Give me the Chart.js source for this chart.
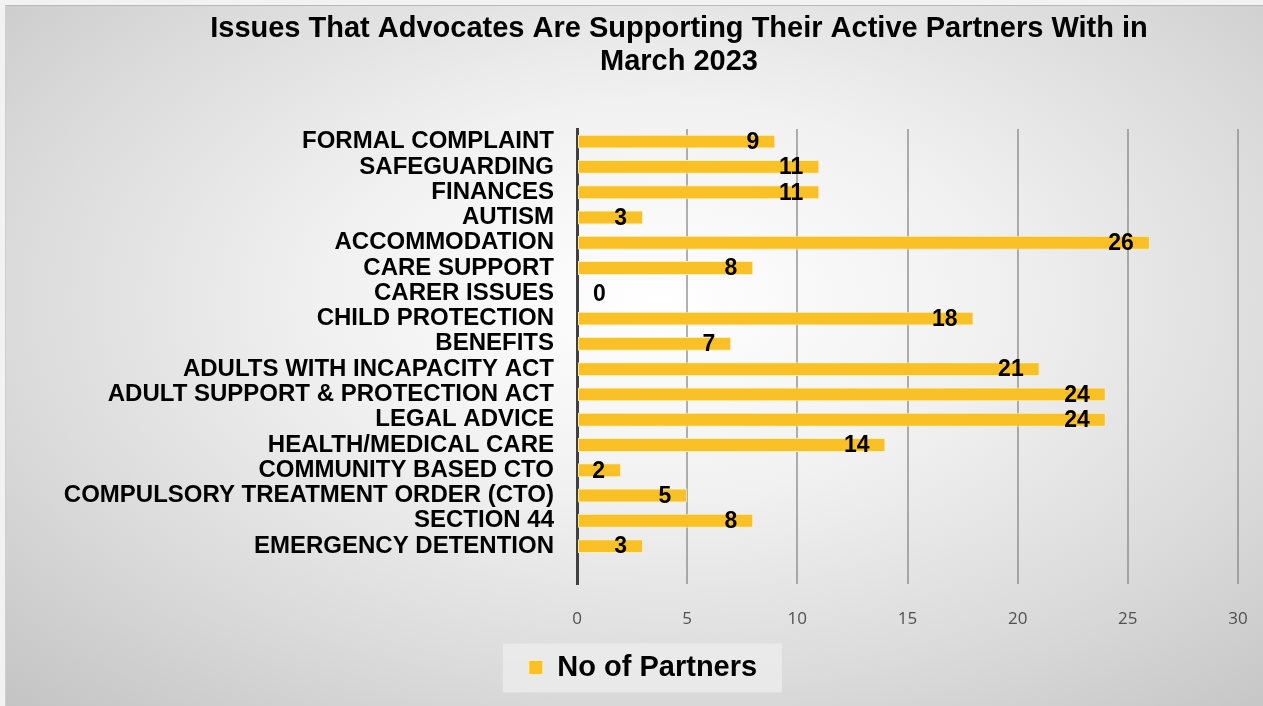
<!DOCTYPE html>
<html>
<head>
<meta charset="utf-8">
<script src="https://cdn.jsdelivr.net/npm/chart.js@4.4.1/dist/chart.umd.min.js"></script>
<style>
  html, body { margin: 0; padding: 0; background: #f2f2f2; overflow: hidden; width: 1263px; height: 706px; }
  #wrap {
    position: absolute; left: 5px; top: 5px; width: 1257px; height: 700px; overflow: hidden;
    border-top: 1px solid #b8b8b8; border-left: 1px solid #cfcfcf;
    background: radial-gradient(ellipse 75% 80% at 52% 42%, #ffffff 0%, #f1f1f1 35%, #dadada 70%, #c4c4c4 100%);
  }
  #c { position: absolute; left: 0; top: 0; }
</style>
</head>
<body>
<div id="wrap"></div>
<canvas id="c" width="1263" height="706"></canvas>
<script>
const titleLines = ["Issues That Advocates Are Supporting Their Active Partners With in", "March 2023"];
const categories = [
  "FORMAL COMPLAINT", "SAFEGUARDING", "FINANCES", "AUTISM", "ACCOMMODATION",
  "CARE SUPPORT", "CARER ISSUES", "CHILD PROTECTION", "BENEFITS",
  "ADULTS WITH INCAPACITY ACT", "ADULT SUPPORT & PROTECTION ACT", "LEGAL ADVICE",
  "HEALTH/MEDICAL CARE", "COMMUNITY BASED CTO", "COMPULSORY TREATMENT ORDER (CTO)",
  "SECTION 44", "EMERGENCY DETENTION"
];
const partners = [9, 11, 11, 3, 26, 8, 0, 18, 7, 21, 24, 24, 14, 2, 5, 8, 3];
const seriesName = "No of Partners";
const xTicks = [0, 5, 10, 15, 20, 25, 30];

const FONT = '"Liberation Sans", Arial, sans-serif';
const LEGEND_SHIFT = 13;

const legendShift = {
  id: 'legendShift',
  afterUpdate(chart) {
    const lg = chart.legend;
    if (!lg) return;
    lg.left += LEGEND_SHIFT; lg.right += LEGEND_SHIFT;
  },
  beforeDraw(chart) {
    const lg = chart.legend;
    if (!lg || !lg.legendHitBoxes || !lg.legendHitBoxes.length) return;
    const h = lg.legendHitBoxes[0];
    const pad = 10;
    const x0 = (lg.left + pad + lg.right - lg.lineWidths[0]) / 2;
    const ctx = chart.ctx;
    ctx.save();
    ctx.fillStyle = 'rgba(238,238,238,0.75)';
    const cy = h.top + h.height / 2;
    ctx.fillRect(x0 - 26, cy - 24, 279, 49);
    ctx.restore();
  }
};

const titlePlugin = {
  id: 'customTitle',
  afterDraw(chart) {
    const ctx = chart.ctx;
    ctx.save();
    ctx.font = 'bold 29px ' + FONT;
    ctx.fillStyle = '#000';
    ctx.textAlign = 'center';
    ctx.textBaseline = 'middle';
    ctx.fillText(titleLines[0], 679, 29);
    ctx.fillText(titleLines[1], 679, 62);
    ctx.restore();
  }
};

const labelPlugin = {
  id: 'barLabels',
  afterDatasetsDraw(chart) {
    const ctx = chart.ctx;
    const meta = chart.getDatasetMeta(0);
    const data = chart.data.datasets[0].data;
    ctx.save();
    ctx.font = 'bold 23px ' + FONT;
    ctx.fillStyle = '#000';
    ctx.textBaseline = 'middle';
    meta.data.forEach((bar, i) => {
      const v = data[i];
      if (v === null || v === undefined) return;
      if (v > 0) {
        ctx.textAlign = 'right';
        ctx.fillText(String(v), bar.x - 16, bar.y + 1);
      } else {
        ctx.textAlign = 'left';
        ctx.fillText(String(v), bar.x + 16, bar.y + 1);
      }
    });
    ctx.restore();
  }
};

new Chart(document.getElementById('c'), {
  type: 'bar',
  data: {
    labels: [...categories, ''],
    datasets: [{
      label: seriesName,
      data: partners,
      backgroundColor: '#F9C125',
      borderColor: 'rgba(255,238,180,0.95)',
      borderWidth: 1,
      borderSkipped: false,
      barPercentage: 0.55,
      categoryPercentage: 1.0
    }]
  },
  options: {
    indexAxis: 'y',
    responsive: false,
    animation: false,
    layout: { padding: { top: 129, left: 22, right: 25, bottom: 14 } },
    scales: {
      x: {
        min: 0, max: 30,
        afterBuildTicks(axis) { axis.ticks = xTicks.map(v => ({ value: v })); },
        afterFit(axis) { axis.height = 59; axis.paddingLeft = 0; axis.paddingRight = 0; },
        grid: { color: 'rgba(125,125,125,0.6)', lineWidth: 2, drawTicks: false },
        border: { display: false },
        ticks: {
          padding: 25,
          color: '#505050',
          font: { family: '"Open Sans", "Noto Sans", sans-serif', size: 17 }
        }
      },
      y: {
        afterFit(axis) { axis.width = 555; },
        grid: { display: false },
        border: { display: true, color: '#404040', width: 3 },
        ticks: {
          autoSkip: false,
          padding: 15,
          color: '#000',
          font: { family: FONT, size: 24, weight: 'bold' }
        }
      }
    },
    plugins: {
      title: { display: false },
      tooltip: { enabled: false },
      legend: {
        position: 'bottom',
        labels: {
          boxWidth: 14, boxHeight: 14,
          color: '#000',
          font: { family: FONT, size: 29, weight: 'bold' },
          padding: 10
        }
      }
    }
  },
  plugins: [legendShift, titlePlugin, labelPlugin]
});
</script>
</body>
</html>
